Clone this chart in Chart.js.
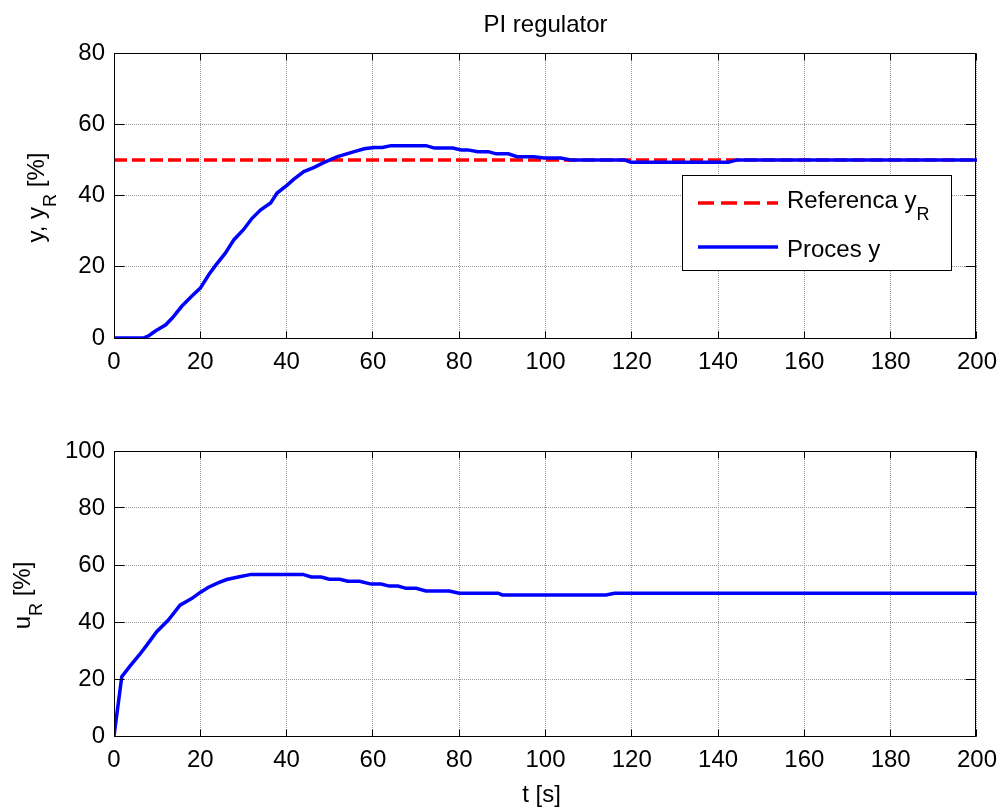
<!DOCTYPE html>
<html>
<head>
  <meta charset="utf-8">
  <title>PI regulator</title>
  <script src="https://cdn.jsdelivr.net/npm/chart.js@4.4.1/dist/chart.umd.min.js"></script>
  <style>
    body { margin: 0; background: #fff; }
    #wrap { position: relative; width: 1007px; height: 810px; }
    #wrap canvas { position: absolute; left: 0; }
  </style>
</head>
<body>
<div id="wrap">
  <canvas id="cTop" width="1007" height="405" style="top:0"></canvas>
  <canvas id="cBottom" width="1007" height="405" style="top:405px"></canvas>
</div>
<script>
// --- data ---
var xTicks = [0, 20, 40, 60, 80, 100, 120, 140, 160, 180, 200];
var yTicksTop = [0, 20, 40, 60, 80];
var yTicksBottom = [0, 20, 40, 60, 80, 100];

// reference y_R
var refT = [0, 200];
var refY = [50, 50];

// process output y
var procT = [0, 6.8, 8, 9.5, 12, 13.5, 15.7, 18, 20, 22, 23.5, 25.8, 27.8, 30, 32, 34, 36.3, 37.8,
  40.2, 41.7, 44, 46.4, 48.7, 51.8, 55.7, 58, 60.3, 62.2, 64.2, 72.3, 74.3, 78.5, 80.5, 82,
  84.3, 86.7, 88.6, 91.4, 93.4, 97.3, 99.6, 103.5, 105.8, 118.3, 119.8, 142.4, 144.4, 200];
var procY = [0, 0, 0.6, 1.9, 3.7, 5.6, 8.9, 11.7, 14, 17.8, 20.3, 23.8, 27.6, 30.4, 33.6, 36, 37.9, 40.7,
  43, 44.6, 46.7, 47.9, 49.3, 50.9, 52.3, 53.1, 53.5, 53.5, 54, 54, 53.3, 53.3, 52.8, 52.8,
  52.3, 52.3, 51.7, 51.7, 50.9, 50.9, 50.5, 50.5, 50, 50, 49.3, 49.3, 50, 50];

// controller output u_R
var ctrlT = [0, 1.8, 3.7, 6, 7.9, 9.9, 12.6, 15.3, 18, 19.9, 21.8, 24.1, 26.1, 28.8, 31.8, 43.8,
  45.7, 48, 49.9, 52.3, 54.2, 56.9, 59.6, 61.9, 63.8, 65.8, 67.7, 70, 72.3, 77.7, 80, 89, 90,
  114, 116, 200];
var ctrlU = [0, 20.8, 24.5, 28.7, 32.5, 36.6, 40.7, 45.9, 48.2, 50.3, 52.1, 53.7, 54.9, 55.8, 56.7, 56.7,
  55.8, 55.8, 55, 55, 54.3, 54.3, 53.3, 53.3, 52.6, 52.6, 51.8, 51.8, 50.9, 50.9, 50.1, 50.1, 49.5,
  49.5, 50.1, 50.1];

function pts(xs, ys) {
  return xs.map(function(x, i) { return {x: x, y: ys[i]}; });
}

var FONT = "'Liberation Sans', Arial, Helvetica, sans-serif";
Chart.defaults.font.family = FONT;
Chart.defaults.font.size = 24;
Chart.defaults.color = '#000';

// draw text with subscript parts: [['y, y'], ['R', true], [' [%]']]
function subText(ctx, parts, x, y, align) {
  var w = 0, i;
  for (i = 0; i < parts.length; i++) {
    ctx.font = (parts[i][1] ? '18px ' : '24px ') + FONT;
    w += ctx.measureText(parts[i][0]).width;
  }
  var cx = align === 'center' ? x - w / 2 : x;
  ctx.textAlign = 'left';
  ctx.textBaseline = 'alphabetic';
  for (i = 0; i < parts.length; i++) {
    ctx.font = (parts[i][1] ? '18px ' : '24px ') + FONT;
    ctx.fillText(parts[i][0], cx, parts[i][1] ? y + 12 : y);
    cx += ctx.measureText(parts[i][0]).width;
  }
}

// MATLAB look: box, inner ticks, labels, legend
var matlabAxes = {
  id: 'matlabAxes',
  afterDraw: function(chart, args, o) {
    var ctx = chart.ctx, a = chart.chartArea;
    var xs = chart.scales.x, ys = chart.scales.y;
    var L = Math.floor(a.left) + 0.5, R = Math.floor(a.right) - 0.5;
    var T = Math.floor(a.top) + 0.5, B = Math.floor(a.bottom) + 0.5;
    ctx.save();
    ctx.strokeStyle = '#000';
    ctx.lineWidth = 1;
    ctx.setLineDash([]);
    ctx.beginPath();
    ctx.rect(L, T, R - L, B - T);
    xs.ticks.forEach(function(t) {
      var p = Math.floor(xs.getPixelForValue(t.value)) + 0.5;
      ctx.moveTo(p, B); ctx.lineTo(p, B - 7);
      ctx.moveTo(p, T); ctx.lineTo(p, T + 7);
    });
    ys.ticks.forEach(function(t) {
      var p = Math.floor(ys.getPixelForValue(t.value)) + 0.5;
      ctx.moveTo(L, p); ctx.lineTo(L + 10, p);
      ctx.moveTo(R, p); ctx.lineTo(R - 10, p);
    });
    ctx.stroke();

    ctx.fillStyle = '#000';
    if (o.title) subText(ctx, [[o.title]], (a.left + a.right) / 2, 32, 'center');
    if (o.xlabel) subText(ctx, [[o.xlabel]], (a.left + a.right) / 2 - 4, o.xlabelY, 'center');
    if (o.ylabel) {
      ctx.save();
      ctx.translate(o.ylabelX, (a.top + a.bottom) / 2 + 2);
      ctx.rotate(-Math.PI / 2);
      subText(ctx, o.ylabel, 0, 0, 'center');
      ctx.restore();
    }
    if (o.legend) {
      var lg = o.legend;
      ctx.fillStyle = '#fff';
      ctx.fillRect(lg.x, lg.y, lg.w, lg.h);
      ctx.strokeRect(lg.x + 0.5, lg.y + 0.5, lg.w, lg.h);
      lg.items.forEach(function(it) {
        var ds = chart.data.datasets[it.ds];
        ctx.strokeStyle = ds.borderColor;
        ctx.lineWidth = ds.borderWidth;
        ctx.setLineDash(ds.borderDash ? [16, 7] : []);
        ctx.beginPath();
        ctx.moveTo(lg.x + 16, it.lineY);
        ctx.lineTo(lg.x + 96, it.lineY);
        ctx.stroke();
        ctx.fillStyle = '#000';
        subText(ctx, it.text, lg.x + 105, it.textY, 'left');
      });
    }
    ctx.restore();
  }
};

function axisX(height) {
  return {
    type: 'linear', min: 0, max: 200,
    afterBuildTicks: function(s) { s.ticks = xTicks.map(function(v) { return {value: v}; }); },
    afterFit: function(s) { s.height = height; },
    ticks: { padding: 10, maxRotation: 0, autoSkip: false },
    grid: { color: '#9a9a9a', lineWidth: 1, drawTicks: false },
    border: { display: false, dash: [1, 1] }
  };
}
function axisY(max, ticks) {
  return {
    type: 'linear', min: 0, max: max,
    afterBuildTicks: function(s) { s.ticks = ticks.map(function(v) { return {value: v}; }); },
    afterFit: function(s) { s.width = 114; },
    ticks: { padding: 9 },
    grid: { color: '#9a9a9a', lineWidth: 1, drawTicks: false },
    border: { display: false, dash: [1, 1] }
  };
}

var topChart = new Chart(document.getElementById('cTop'), {
  type: 'line',
  data: {
    datasets: [{
      label: 'Referenca yR',
      data: pts(refT, refY),
      borderColor: '#ff0000',
      borderWidth: 3.5,
      borderDash: [13, 5],
      order: 2
    }, {
      label: 'Proces y',
      data: pts(procT, procY),
      borderColor: '#0000ff',
      borderWidth: 3.5,
      order: 1
    }]
  },
  options: {
    responsive: false,
    animation: false,
    parsing: false,
    elements: { point: { radius: 0 }, line: { tension: 0 } },
    layout: { padding: { left: 0, right: 24, top: 53, bottom: 0 } },
    scales: { x: axisX(67), y: axisY(80, yTicksTop) },
    plugins: {
      legend: { display: false },
      tooltip: { enabled: false },
      matlabAxes: {
        title: 'PI regulator',
        ylabel: [['y, y'], ['R', true], [' [%]']],
        ylabelX: 44,
        legend: {
          x: 682, y: 175, w: 269, h: 95,
          items: [
            { ds: 0, lineY: 203, textY: 208, text: [['Referenca y'], ['R', true]] },
            { ds: 1, lineY: 247, textY: 257, text: [['Proces y']] }
          ]
        }
      }
    }
  },
  plugins: [matlabAxes]
});

var bottomChart = new Chart(document.getElementById('cBottom'), {
  type: 'line',
  data: {
    datasets: [{
      label: 'uR',
      data: pts(ctrlT, ctrlU),
      borderColor: '#0000ff',
      borderWidth: 3.5
    }]
  },
  options: {
    responsive: false,
    animation: false,
    parsing: false,
    elements: { point: { radius: 0 }, line: { tension: 0 } },
    layout: { padding: { left: 0, right: 24, top: 46, bottom: 0 } },
    scales: { x: axisX(74), y: axisY(100, yTicksBottom) },
    plugins: {
      legend: { display: false },
      tooltip: { enabled: false },
      matlabAxes: {
        ylabel: [['u'], ['R', true], [' [%]']],
        ylabelX: 30,
        xlabel: 't [s]',
        xlabelY: 397
      }
    }
  },
  plugins: [matlabAxes]
});
</script>
</body>
</html>
